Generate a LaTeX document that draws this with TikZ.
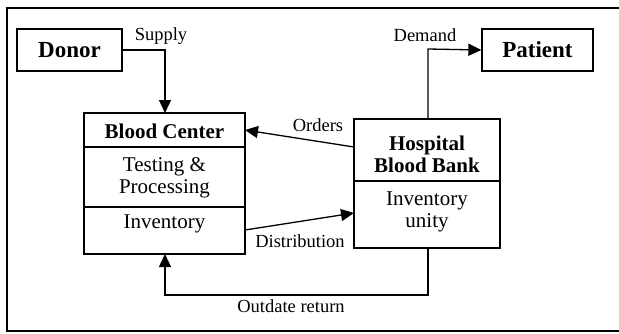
\documentclass[tikz,border=0pt]{standalone}
\usepackage{fontspec}
\setmainfont{Liberation Serif}
\usetikzlibrary{arrows.meta}
\begin{document}
\begin{tikzpicture}[x=1pt,y=-1pt,
  lbl/.style={font=\fontsize{18.5}{20}\selectfont, inner sep=0pt},
  txt/.style={font=\fontsize{21}{24}\selectfont, inner sep=0pt, align=center},
  btxt/.style={font=\fontsize{21}{24}\selectfont\bfseries, inner sep=0pt, align=center},
  endbox/.style={draw, line width=1.3pt, minimum width=105pt, minimum height=42pt, font=\fontsize{23}{26}\selectfont\bfseries, inner sep=0pt},
  thick box/.style={draw, line width=2.5pt},
  conn/.style={line width=1.3pt, -{Triangle[length=13pt,width=12pt]}},
  plain/.style={line width=1.3pt}]
\useasboundingbox (0,0) rectangle (619,333);
% outer frame (right edge outside picture)
\draw[line width=1.5pt] (625,8) -- (7,8) -- (7,331) -- (625,331);

% Donor and Patient
\node[endbox] (donor) at (69.5,50) {Donor};
\node[endbox, minimum width=111pt] (patient) at (537.5,50) {Patient};

% Blood Center
\coordinate (bcNW) at (84,113);
\coordinate (bcSE) at (245,254);
\draw[thick box] (bcNW) rectangle (bcSE);
\draw[line width=2.8pt] (84,147) -- (245,147);
\draw[line width=1.3pt] (84,207) -- (245,207);
\node[btxt] (bc) at (164.5,131) {Blood Center};
\node[txt] (tp) at (164.5,178) {Testing \&\\[-2pt]Processing};
\node[txt] (inv) at (164.5,224) {Inventory};

% Hospital Blood Bank
\coordinate (hbNW) at (354,119);
\coordinate (hbSE) at (500,248);
\draw[thick box] (hbNW) rectangle (hbSE);
\draw[line width=2.8pt] (354,181) -- (500,181);
\node[btxt] (hb) at (427,154) {Hospital\\[-2pt]Blood Bank};
\node[txt] (iu) at (427,212) {Inventory\\[-2pt]unity};

% connector coordinates
\coordinate (bcTop) at (165,113);
\coordinate (bcBot) at (165,254);
\coordinate (bcOrd) at (245,130);
\coordinate (bcDist) at (245,230);
\coordinate (hbOrd) at (354,147);
\coordinate (hbDist) at (354,213);
\coordinate (hbTop) at (428,119);
\coordinate (hbBot) at (428,248);

% Supply
\draw[conn] (donor.east) -- (165,50) -- (bcTop);
\node[lbl] (supply) at (161,36) {Supply};
% Demand
\draw[conn] (hbTop) -- (428,49) -- (patient.west);
\node[lbl] (demand) at (425,35) {Demand};
% Orders
\draw[conn] (hbOrd) -- (bcOrd);
\node[lbl] (orders) at (318,125) {Orders};
% Distribution
\draw[conn] (bcDist) -- (hbDist);
\node[lbl] (dist) at (300,241) {Distribution};
% Outdate return
\draw[conn] (hbBot) -- (428,295) -- (165,295) -- (bcBot);
\node[lbl] (outdate) at (291,306) {Outdate return};
\end{tikzpicture}
\end{document}
